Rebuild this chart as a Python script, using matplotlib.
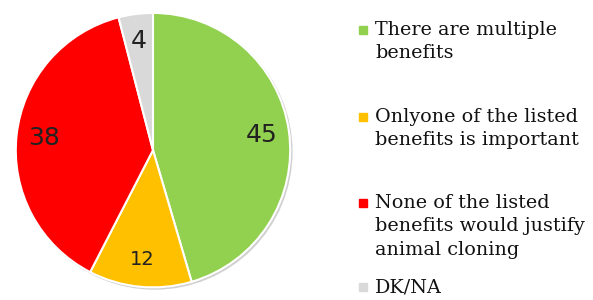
import matplotlib.pyplot as plt
import matplotlib.patches as mpatches

# Data
labels = ["There are multiple\nbenefits",
          "Onlyone of the listed\nbenefits is important",
          "None of the listed\nbenefits would justify\nanimal cloning",
          "DK/NA"]
values = [45, 12, 38, 4]
colors = ["#92D050", "#FFC000", "#FF0000", "#D9D9D9"]
label_sizes = [18, 14, 18, 18]

fig = plt.figure(figsize=(5.93, 3.0), dpi=100)
ax = fig.add_axes([0.022, 0.033, 0.472, 0.933])

# faint shadow behind the pie
ax.add_patch(mpatches.Circle((0.012, -0.012), 1.0, color="#d0d0d0", zorder=0))

wedges, texts = ax.pie(values, colors=colors, startangle=90, counterclock=False,
                       labels=[str(v) for v in values], labeldistance=0.8,
                       wedgeprops=dict(edgecolor="white", linewidth=1.5))
for t, s in zip(texts, label_sizes):
    t.set_fontsize(s)
    t.set_color("#222222")
    t.set_ha("center")
    t.set_va("center")
    t.set_fontfamily("DejaVu Sans")
ax.set_xlim(-1.02, 1.02)
ax.set_ylim(-1.02, 1.02)
ax.set_aspect("equal")

# Legend drawn manually to keep Excel-like spacing
tops = [30, 117, 203, 287]
for lab, col, y in zip(labels, colors, tops):
    fy = 1 - y / 300
    fig.patches.append(mpatches.Rectangle((359 / 593, fy - 4 / 300), 8 / 593, 8 / 300,
                                          transform=fig.transFigure, color=col, figure=fig))
    fig.text(375 / 593, fy + 9 / 300, lab, ha="left", va="top", fontsize=13.8,
             family="DejaVu Serif", linespacing=1.38, color="#111111")

plt.savefig("out.png", dpi=100)
